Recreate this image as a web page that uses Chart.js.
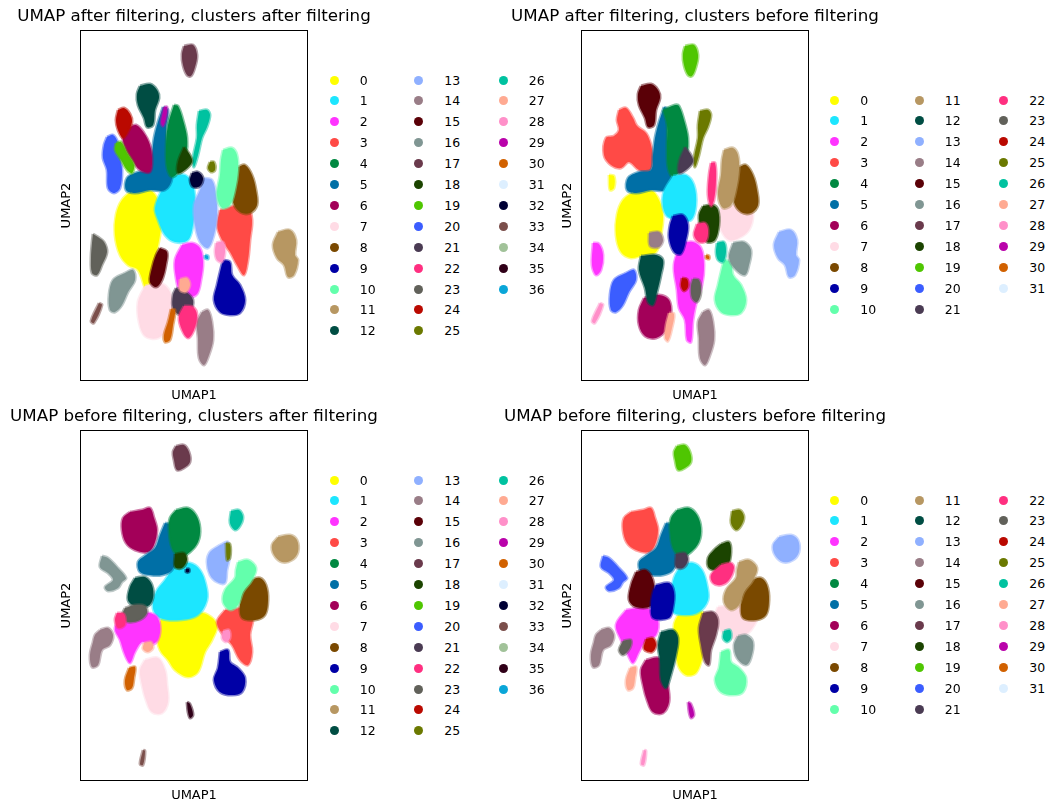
<!DOCTYPE html>
<html>
<head>
<meta charset="utf-8">
<script src="https://cdn.jsdelivr.net/npm/chart.js@4/dist/chart.umd.min.js"></script>
<style>
  body { margin: 0; background: #fff; width: 1062px; height: 811px; position: relative; overflow: hidden; font-family: 'DejaVu Sans', sans-serif; }
  canvas { position: absolute; }
  .legend { position: absolute; z-index: 2; }
  .item { position: absolute; display: flex; align-items: center; height: 20px; font-size: 12.5px; color: #000; white-space: nowrap; }
  .dot { width: 9px; height: 9px; border-radius: 50%; margin-right: 21px; }
</style>
</head>
<body>
<canvas id="c-aa" width="388" height="405" style="left:0;top:0"></canvas>
<canvas id="c-ab" width="388" height="405" style="left:501px;top:0"></canvas>
<canvas id="c-ba" width="388" height="405" style="left:0;top:400px"></canvas>
<canvas id="c-bb" width="388" height="405" style="left:501px;top:400px"></canvas>
<div id="legends"></div>
<script>
// scanpy default_102 palette (first 37 entries)
const palette = ['#FFFF00', '#1CE6FF', '#FF34FF', '#FF4A46', '#008941', '#006FA6', '#A30059', '#FFDBE5', '#7A4900', '#0000A6',
  '#63FFAC', '#B79762', '#004D43', '#8FB0FF', '#997D87', '#5A0007', '#809693', '#6A3A4C', '#1B4400', '#4FC601',
  '#3B5DFF', '#4A3B53', '#FF2F80', '#61615A', '#BA0900', '#6B7900', '#00C2A0', '#FFAA92', '#FF90C9', '#B903AA',
  '#D16100', '#DDEFFF', '#000035', '#7B4F4B', '#A1C299', '#300018', '#0AA6D8']

const clustersAfter = Array.from({ length: 37 }, (_, i) => String(i))
const clustersBefore = Array.from({ length: 32 }, (_, i) => String(i))

const titles = [
  'UMAP after filtering, clusters after filtering',
  'UMAP after filtering, clusters before filtering',
  'UMAP before filtering, clusters after filtering',
  'UMAP before filtering, clusters before filtering'
]

// cluster outlines, [UMAP1, UMAP2] in arbitrary units (x 0-228, y 0-351)
// UMAP after filtering, coloured by clusters after filtering
const umapAfterClustersAfter = [
  [[55, 193], [70, 191], [78, 181], [82, 166], [80, 146], [76, 126], [72, 106], [71, 86], [66, 91], [58, 111], [48, 116], [40, 126], [35, 146], [36, 166], [42, 181]],
  [[92, 205], [105, 206], [113, 196], [115, 176], [113, 156], [108, 141], [95, 139], [85, 146], [78, 161], [75, 173], [82, 191]],
  [[102, 136], [112, 138], [120, 133], [123, 119], [121, 101], [117, 87], [108, 84], [100, 89], [96, 103], [95, 121]],
  [[140, 171], [155, 175], [168, 173], [172, 161], [170, 141], [168, 121], [164, 106], [157, 116], [150, 129], [142, 141], [137, 156]],
  [[94, 276], [98, 275], [103, 261], [107, 243], [106, 226], [100, 211], [92, 204], [87, 213], [86, 233], [88, 256]],
  [[83, 274], [88, 271], [86, 251], [88, 226], [92, 203], [85, 191], [70, 191], [55, 188], [46, 191], [47, 203], [58, 209], [70, 211], [72, 226], [74, 243], [78, 259]],
  [[48, 253], [56, 256], [64, 248], [70, 236], [72, 223], [70, 209], [60, 211], [52, 221], [45, 233], [43, 245]],
  [[65, 95], [80, 98], [90, 89], [93, 71], [88, 53], [78, 43], [65, 45], [59, 59], [58, 79]],
  [[158, 214], [165, 216], [172, 206], [176, 191], [177, 176], [170, 168], [160, 169], [153, 179], [152, 196], [155, 209]],
  [[143, 121], [150, 119], [152, 106], [160, 96], [165, 81], [160, 68], [150, 66], [140, 69], [134, 81], [137, 96], [140, 109]],
  [[143, 231], [152, 233], [157, 226], [158, 211], [155, 191], [150, 176], [142, 173], [137, 186], [140, 206], [141, 221]],
  [[198, 149], [210, 151], [216, 141], [215, 126], [218, 121], [214, 106], [208, 104], [204, 116], [197, 123], [193, 136]],
  [[60, 295], [70, 297], [77, 291], [79, 283], [75, 271], [73, 256], [67, 254], [64, 263], [58, 276], [57, 287]],
  [[124, 203], [132, 201], [136, 186], [137, 166], [134, 146], [128, 133], [120, 139], [115, 156], [114, 176], [120, 191]],
  [[122, 69], [128, 71], [132, 59], [133, 41], [129, 26], [124, 16], [119, 23], [118, 43], [117, 59]],
  [[80, 133], [87, 129], [86, 116], [82, 101], [76, 94], [70, 99], [72, 113], [76, 126]],
  [[45, 108], [53, 111], [55, 101], [48, 89], [42, 76], [35, 69], [30, 71], [29, 86], [33, 101]],
  [[104, 335], [113, 336], [117, 326], [115, 314], [111, 305], [107, 306], [103, 316], [102, 327]],
  [[104, 234], [110, 226], [112, 219], [105, 211], [98, 208], [98, 219]],
  [[36, 238], [41, 239], [47, 228], [54, 216], [52, 208], [47, 211], [41, 221], [35, 231]],
  [[27, 244], [33, 246], [38, 238], [40, 224], [42, 211], [40, 193], [34, 188], [28, 193], [27, 211], [23, 223], [24, 236]],
  [[96, 93], [106, 89], [113, 81], [110, 69], [100, 66], [93, 73], [93, 86]],
  [[104, 75], [113, 74], [117, 66], [114, 51], [108, 43], [102, 51], [99, 64]],
  [[13, 147], [18, 144], [24, 139], [27, 129], [22, 116], [17, 106], [12, 108], [11, 123], [12, 138]],
  [[38, 271], [44, 273], [50, 267], [52, 259], [48, 249], [43, 243], [38, 251], [36, 261]],
  [[130, 219], [134, 219], [135, 211], [131, 209], [128, 213]],
  [[119, 270], [127, 271], [130, 266], [127, 254], [122, 243], [118, 226], [114, 214], [113, 223], [117, 243], [117, 256]],
  [[100, 102], [107, 103], [110, 96], [106, 89], [100, 91]],
  [[136, 138], [143, 139], [145, 129], [142, 119], [137, 121], [135, 129]],
  [[84, 274], [87, 274], [86, 263], [83, 255], [81, 259]],
  [[91, 72], [95, 71], [93, 56], [90, 41], [85, 39], [84, 46], [88, 59]],
  [],
  [[112, 208], [118, 209], [123, 203], [120, 195], [113, 194], [110, 201]],
  [[19, 78], [22, 76], [14, 58], [11, 60]],
  [],
  [],
  [[125, 126], [128, 125], [128, 122], [125, 123]]
]

// same embedding, coloured by clusters before filtering
const A = umapAfterClustersAfter
const umapAfterClustersBefore = [
  [[[55, 191], [70, 191], [78, 181], [82, 166], [80, 146], [75, 129], [62, 126], [50, 123], [40, 129], [35, 146], [36, 166], [42, 181]],
    [[28, 206], [33, 205], [33, 193], [29, 191]]],
  [[92, 205], [105, 206], [113, 196], [115, 176], [110, 161], [98, 161], [85, 166], [82, 186]],
  [[[100, 138], [112, 139], [120, 133], [123, 116], [121, 96], [116, 81], [112, 61], [110, 39], [106, 41], [104, 61], [98, 73], [96, 91], [93, 116]],
    [[12, 138], [18, 137], [22, 126], [20, 111], [15, 106], [11, 116]]],
  [[38, 271], [45, 273], [52, 263], [56, 255], [65, 248], [70, 236], [72, 221], [68, 209], [58, 211], [48, 219], [40, 213], [30, 216], [23, 226], [25, 243], [33, 245], [38, 251], [36, 261]],
  [[82, 271], [94, 276], [98, 275], [103, 261], [107, 243], [106, 226], [100, 211], [92, 204], [87, 213], [86, 233], [86, 256]],
  A[5],
  [[63, 83], [78, 86], [88, 81], [90, 66], [85, 51], [75, 43], [64, 45], [58, 56], [58, 71]],
  [[140, 173], [155, 176], [168, 175], [172, 166], [168, 151], [158, 143], [148, 141], [140, 151], [137, 163]],
  A[8],
  [[92, 165], [102, 166], [107, 156], [105, 141], [100, 127], [93, 129], [88, 143], [89, 156]],
  A[9],
  A[10],
  [[60, 125], [75, 126], [82, 121], [80, 106], [76, 89], [72, 76], [67, 79], [64, 93], [58, 111]],
  A[11],
  [[[68, 148], [78, 149], [82, 141], [78, 134], [69, 135]], A[14]],
  A[12],
  [[152, 138], [163, 139], [170, 131], [168, 116], [164, 106], [155, 111], [148, 123]],
  [],
  [[122, 175], [132, 176], [137, 171], [138, 156], [134, 141], [126, 139], [120, 151], [118, 166]],
  A[17],
  A[16],
  A[18],
  [[[130, 218], [134, 218], [135, 201], [133, 181], [130, 175], [127, 186], [128, 206]],
    [[116, 157], [124, 158], [127, 151], [125, 140], [118, 139], [113, 146]]],
  [[112, 102], [118, 101], [120, 89], [116, 79], [111, 83], [110, 95]],
  [[101, 103], [106, 102], [107, 94], [103, 90], [100, 95]],
  A[26],
  A[28],
  [[88, 68], [93, 67], [91, 53], [87, 40], [84, 43], [85, 56]],
  A[33],
  [],
  A[36],
  []
]

// UMAP before filtering, coloured by clusters after filtering
const umapBeforeClustersAfter = [
  [[85, 168], [100, 166], [115, 169], [128, 166], [137, 156], [132, 141], [125, 129], [118, 109], [108, 104], [95, 111], [88, 121], [80, 131], [77, 146], [80, 159]],
  [[95, 216], [110, 218], [120, 211], [126, 196], [127, 181], [118, 166], [100, 161], [80, 163], [73, 173], [76, 189], [85, 201]],
  [[45, 168], [60, 169], [75, 166], [80, 156], [78, 141], [70, 136], [62, 139], [55, 129], [50, 118], [45, 126], [40, 141], [35, 153]],
  [[145, 171], [160, 173], [172, 173], [173, 161], [170, 146], [172, 129], [168, 116], [160, 121], [152, 136], [143, 146], [137, 159]],
  [[96, 271], [108, 273], [116, 266], [120, 253], [118, 239], [110, 229], [100, 224], [92, 233], [89, 251], [90, 263]],
  [[85, 258], [92, 256], [95, 241], [97, 226], [92, 211], [82, 206], [70, 206], [60, 209], [58, 219], [66, 226], [75, 233], [80, 246]],
  [[50, 269], [62, 271], [70, 273], [74, 263], [77, 251], [74, 236], [68, 229], [55, 231], [46, 238], [42, 251], [43, 263]],
  [[65, 121], [78, 123], [85, 111], [87, 96], [88, 79], [82, 68], [72, 69], [66, 81], [62, 96], [60, 111]],
  [[170, 201], [180, 203], [186, 196], [188, 181], [185, 166], [175, 161], [162, 163], [160, 176], [163, 191]],
  [[140, 129], [148, 131], [150, 119], [158, 113], [165, 103], [162, 89], [152, 86], [140, 89], [134, 101], [138, 113]],
  [[158, 219], [168, 221], [176, 213], [172, 201], [163, 189], [158, 176], [150, 171], [143, 179], [145, 191], [155, 203], [156, 211]],
  [[198, 244], [210, 246], [217, 241], [218, 229], [212, 221], [202, 219], [194, 226], [192, 236]],
  [[55, 203], [65, 204], [72, 196], [73, 183], [68, 175], [55, 175], [48, 181], [50, 194]],
  [[140, 236], [148, 239], [150, 226], [147, 211], [145, 198], [137, 199], [130, 206], [127, 219], [130, 229]],
  [[20, 151], [28, 153], [33, 146], [30, 136], [22, 131], [18, 116], [12, 114], [10, 126], [13, 139], [15, 146]],
  [],
  [[22, 225], [28, 223], [38, 213], [46, 203], [42, 199], [38, 193], [28, 190], [25, 194], [33, 201], [28, 208], [20, 214]],
  [[96, 335], [104, 336], [109, 329], [110, 319], [104, 313], [97, 311], [94, 321], [93, 329]],
  [[95, 227], [104, 228], [107, 221], [102, 213], [95, 214]],
  [],
  [],
  [],
  [[37, 168], [44, 167], [45, 156], [38, 153], [35, 161]],
  [[45, 173], [55, 176], [65, 175], [67, 168], [60, 161], [48, 159], [42, 165]],
  [],
  [[146, 238], [150, 237], [150, 223], [147, 221]],
  [[151, 270], [159, 271], [163, 264], [160, 255], [155, 251], [150, 258]],
  [[64, 138], [71, 139], [73, 133], [68, 129], [63, 132]],
  [[143, 150], [149, 151], [150, 143], [146, 139], [142, 143]],
  [],
  [[49, 113], [55, 114], [54, 103], [52, 93], [47, 91], [45, 101]],
  [],
  [[106, 212], [109, 212], [109, 209], [106, 209]],
  [[63, 31], [65, 30], [63, 16], [60, 17]],
  [],
  [[107, 79], [110, 77], [113, 66], [110, 63], [108, 69]],
  []
]

// same embedding, coloured by clusters before filtering
const C = umapBeforeClustersAfter
const umapBeforeClustersBefore = [
  [[100, 171], [115, 173], [123, 166], [125, 146], [122, 126], [115, 108], [105, 106], [97, 116], [95, 136], [93, 156]],
  [[100, 216], [112, 218], [121, 211], [126, 196], [127, 181], [118, 169], [105, 166], [92, 169], [90, 186], [93, 203]],
  [[45, 171], [58, 173], [70, 171], [77, 161], [75, 146], [65, 141], [58, 129], [52, 118], [47, 126], [40, 141], [35, 156]],
  C[6],
  C[4],
  C[5],
  C[7],
  [[137, 174], [155, 176], [170, 175], [177, 166], [170, 151], [160, 144], [148, 143], [138, 153], [133, 163]],
  C[8],
  [[75, 196], [88, 198], [93, 189], [92, 173], [88, 163], [72, 163], [70, 176], [72, 189]],
  C[9],
  C[10],
  [[80, 149], [92, 151], [97, 143], [95, 126], [90, 106], [85, 93], [80, 101], [79, 121], [77, 136]],
  C[11],
  C[14],
  [[55, 209], [65, 211], [72, 201], [73, 186], [70, 175], [55, 174], [48, 181], [50, 196]],
  [[157, 145], [165, 146], [172, 139], [170, 123], [165, 116], [156, 123], [153, 136]],
  [[122, 168], [132, 169], [137, 161], [135, 146], [130, 131], [128, 116], [124, 119], [120, 136], [118, 153]],
  [[140, 237], [148, 239], [150, 229], [147, 216], [138, 211], [128, 213], [127, 223], [133, 231]],
  C[17],
  C[16],
  C[18],
  [[140, 216], [150, 218], [153, 213], [148, 201], [140, 196], [132, 198], [130, 206]],
  [[42, 140], [50, 141], [49, 133], [42, 126], [38, 131]],
  [[65, 142], [72, 143], [75, 136], [71, 129], [63, 132]],
  C[26],
  C[28],
  C[30],
  C[33],
  C[35],
  [],
  []
]

const polygonArea = pts => Math.abs(pts.reduce((s, [x, y], i) => {
  const [nx, ny] = pts[(i + 1) % pts.length]
  return s + x * ny - nx * y
}, 0)) / 2

function buildDatasets (shapes) {
  const datasets = []
  shapes.forEach((shape, cluster) => {
    if (!shape.length) return
    const parts = typeof shape[0][0] === 'number' ? [shape] : shape
    parts.forEach(part => {
      datasets.push({
        label: String(cluster),
        data: part.concat([part[0]]).map(([x, y]) => ({ x, y })),
        showLine: true,
        fill: 'shape',
        tension: 0.35,
        pointRadius: 0,
        borderWidth: 3,
        borderColor: palette[cluster] + '80',
        backgroundColor: palette[cluster],
        // bigger clusters first, small ones end up on top
        order: polygonArea(part)
      })
    })
  })
  return datasets
}

const framePlugin = {
  id: 'frame',
  afterDraw (chart) {
    const { ctx, chartArea: a } = chart
    ctx.save()
    ctx.strokeStyle = '#000'
    ctx.lineWidth = 1
    ctx.strokeRect(Math.round(a.left) + 0.5, Math.round(a.top) + 0.5, Math.round(a.right - a.left) - 1, Math.round(a.bottom - a.top) - 1)
    ctx.restore()
  }
}

function hiddenAxis (min, max, title, padding, width) {
  const axis = {
    type: 'linear',
    min,
    max,
    ticks: { display: false },
    grid: { display: false, drawTicks: false },
    border: { display: false },
    title: { display: !!title, text: title || '', color: '#000', font: { family: 'DejaVu Sans', size: 13 }, padding }
  }
  if (width) axis.afterFit = scale => { scale.width = width }
  return axis
}

function drawPanel (id, title, shapes) {
  const ctx = document.getElementById(id).getContext('2d')
  return new Chart(ctx, {
    type: 'scatter',
    data: { datasets: buildDatasets(shapes) },
    options: {
      responsive: false,
      animation: false,
      devicePixelRatio: 1,
      layout: { padding: 0 },
      plugins: {
        legend: { display: false },
        tooltip: { enabled: false },
        title: {
          display: true,
          text: title,
          color: '#000',
          font: { family: 'DejaVu Sans', size: 16.7, weight: 'normal' },
          padding: { top: 6.6, bottom: 3.4 }
        }
      },
      scales: {
        x: hiddenAxis(0, 228, 'UMAP1', { top: 6.5, bottom: 1.9 }),
        y: hiddenAxis(0, 351, 'UMAP2', { top: 59.2, bottom: 5.2 }, 80),
        // empty right-hand gutter so the title centres over the plot
        gutter: { ...hiddenAxis(0, 1, '', 0, 80), axis: 'y', position: 'right' }
      }
    },
    plugins: [framePlugin]
  })
}

function buildLegend (labels, x, y) {
  const box = document.getElementById('legends')
  const perCol = Math.ceil(labels.length / 3)
  labels.forEach((label, i) => {
    const col = Math.floor(i / perCol)
    const row = i % perCol
    const item = document.createElement('div')
    item.className = 'item legend'
    item.style.left = (x + col * 84.5 - 4.5) + 'px'
    item.style.top = (y + row * 20.9 - 10) + 'px'
    item.innerHTML = '<span class="dot" style="background:' + palette[i] + '"></span><span>' + label + '</span>'
    box.appendChild(item)
  })
}

drawPanel('c-aa', titles[0], umapAfterClustersAfter)
drawPanel('c-ab', titles[1], umapAfterClustersBefore)
drawPanel('c-ba', titles[2], umapBeforeClustersAfter)
drawPanel('c-bb', titles[3], umapBeforeClustersBefore)

buildLegend(clustersAfter, 334.3, 80)
buildLegend(clustersBefore, 834.8, 100)
buildLegend(clustersAfter, 334.3, 480)
buildLegend(clustersBefore, 834.8, 500)
</script>
</body>
</html>
